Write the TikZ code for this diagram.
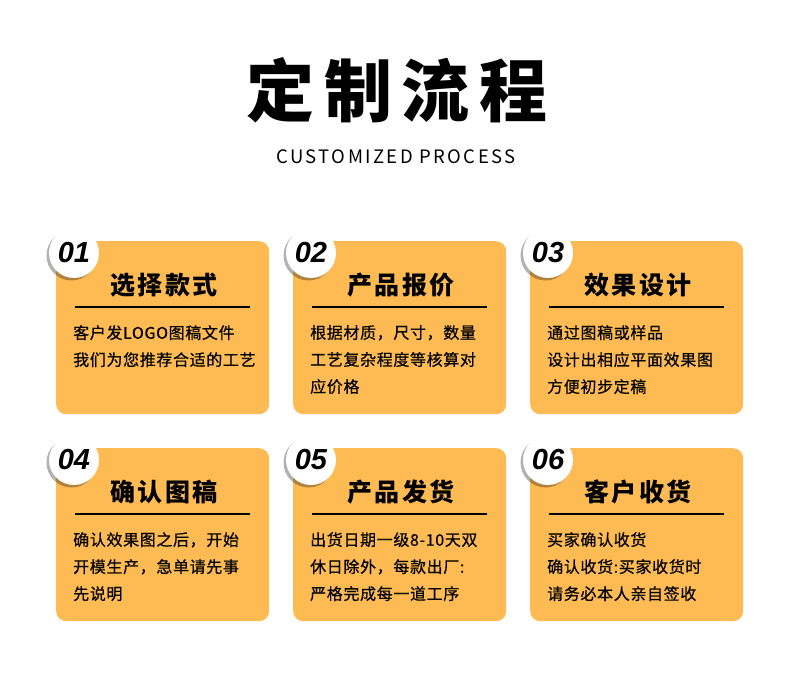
\documentclass[tikz,border=0pt]{standalone}
\usepackage{fontspec}
\setmainfont{Noto Sans CJK SC}
\newfontfamily\numfont{Liberation Sans}
\usetikzlibrary{shadows}
\usetikzlibrary{calc}
\definecolor{cardorange}{RGB}{254,187,84}
\tikzset{
  card/.style={rectangle, rounded corners=10pt, fill=cardorange, anchor=north west,
    minimum width=213pt, minimum height=173pt, inner sep=0pt},
  badge/.style={circle, fill=white, minimum size=50pt, inner sep=0pt,
    drop shadow={shadow xshift=-2.5pt, shadow yshift=-2.5pt, fill=black, opacity=.3},
    font=\numfont\bfseries\itshape\fontsize{29}{32}\selectfont},
  cardtitle/.style={inner sep=0pt, font=\fontsize{25}{30}\selectfont\bfseries\addfontfeature{LetterSpace=10}},
  bodytext/.style={inner sep=0pt, anchor=north west, align=left,
    font=\fontsize{16}{27}\selectfont\addfontfeature{LetterSpace=4,FakeBold=0.5}}
}
\begin{document}
\begin{tikzpicture}[x=1pt,y=-1pt]
\fill[white] (0,0) rectangle (790,692);
\useasboundingbox (0,0) rectangle (790,692);
% heading
\node[inner sep=0pt, font=\fontsize{68}{72}\selectfont\bfseries\addfontfeature{LetterSpace=14}] (heading) at (397,90) {定制流程};
\node[inner sep=0pt, font=\fontsize{18.5}{20}\selectfont\addfontfeature{LetterSpace=13}] (subheading) at (396,157) {CUSTOMIZED PROCESS};
% cards
\foreach \i/\cx/\cy/\ttl/\body in {
  1/56/241/选择款式/{客户发LOGO图稿文件\\我们为您推荐合适的工艺},
  2/293/241/产品报价/{根据材质，尺寸，数量\\工艺复杂程度等核算对\\应价格},
  3/530/241/效果设计/{通过图稿或样品\\设计出相应平面效果图\\方便初步定稿},
  4/56/448/确认图稿/{确认效果图之后，开始\\开模生产，急单请先事\\先说明},
  5/293/448/产品发货/{出货日期一级8-10天双\\休日除外，每款出厂:\\严格完成每一道工序},
  6/530/448/客户收货/{买家确认收货\\确认收货:买家收货时\\请务必本人亲自签收}}{
  \node[card] (card\i) at (\cx,\cy) {};
  \node[badge] (badge\i) at ($(card\i.north west)+(18,12)$) {0\i};
  \node[cardtitle] (title\i) at ($(card\i.north west)+(108,44)$) {\ttl};
  \draw[line width=1.2pt] ($(card\i.north west)+(19,66)$) -- ++(175,0);
  \node[bodytext] (body\i) at ($(card\i.north west)+(17,84)$) {\body};
}
\end{tikzpicture}
\end{document}
